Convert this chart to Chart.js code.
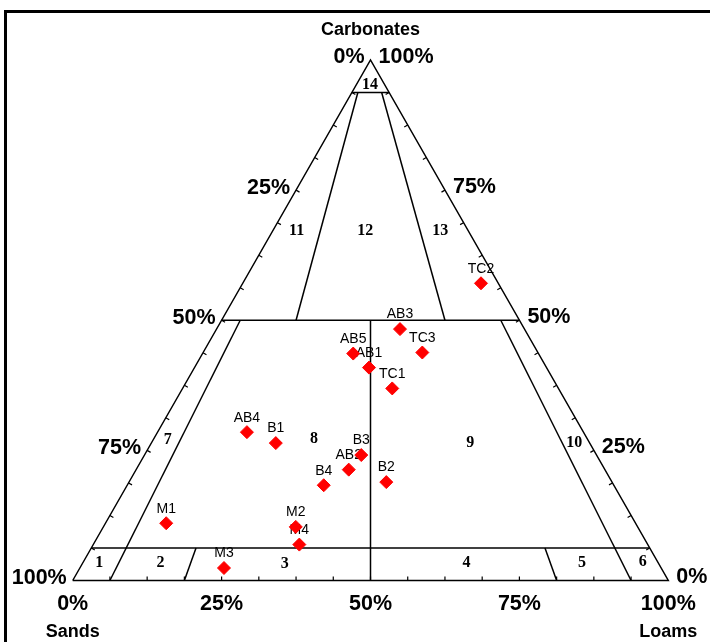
<!DOCTYPE html>
<html>
<head>
<meta charset="utf-8">
<title>Ternary diagram - Sands / Loams / Carbonates</title>
<script src="https://cdn.jsdelivr.net/npm/chart.js@4.4.1/dist/chart.umd.min.js"></script>
<style>
  html, body { margin: 0; padding: 0; background: #fff; }
  canvas { display: block; }
</style>
</head>
<body>
<canvas id="ternary" width="710" height="642"></canvas>
<script>
// samples, composition in % (sands / loams / carbonates)
const sampleNames = ['AB1', 'AB2', 'AB3', 'AB4', 'AB5', 'B1', 'B2', 'B3', 'B4', 'M1', 'M2', 'M3', 'M4', 'TC1', 'TC2', 'TC3'];
const sands      = [29.8, 43.0, 20.9, 56.5, 31.1, 52.7, 37.9, 39.5, 48.7, 78.8, 57.4, 73.4, 58.5, 27.9,  2.9, 19.4];
const loams      = [29.3, 35.7, 30.8, 15.0, 25.3, 20.9, 43.2, 36.4, 33.0, 10.2, 32.3, 24.2, 34.6, 35.2, 40.0, 36.8];
const carbonates = [40.9, 21.3, 48.3, 28.5, 43.6, 26.4, 18.9, 24.1, 18.3, 11.0, 10.3,  2.4,  6.9, 36.9, 57.1, 43.8];

const tickValues = [0, 25, 50, 75, 100];
const tickLabels = ['0%', '25%', '50%', '75%', '100%'];
const minorStep = 6.25;

// classification scheme, every line given by its two ends as [sands, loams, carbonates]
const outline = [[100, 0, 0], [0, 100, 0], [0, 0, 100], [100, 0, 0]];
const boundaries = [
    [[6.25, 0, 93.75], [0, 6.25, 93.75]],
    [[50, 0, 50], [0, 50, 50]],
    [[93.75, 0, 6.25], [0, 93.75, 6.25]],
    [[5.25, 1, 93.75], [37.5, 12.5, 50]],
    [[1.25, 5, 93.75], [12.5, 37.5, 50]],
    [[46.875, 3.125, 50], [93.75, 6.25, 0]],
    [[3.125, 46.875, 50], [6.25, 93.75, 0]],
    [[25, 25, 50], [50, 50, 0]],
    [[76.17, 17.58, 6.25], [81.25, 18.75, 0]],
    [[17.58, 76.17, 6.25], [18.75, 81.25, 0]]
];
const regionIds = ['1', '2', '3', '4', '5', '6', '7', '8', '9', '10', '11', '12', '13', '14'];
const regionSpots = [
    [93.9, 2.8, 3.3], [83.6, 13.1, 3.3], [62.8, 34.0, 3.2], [32.2, 64.4, 3.4], [12.8, 83.8, 3.4], [2.5, 93.9, 3.6],
    [70.5, 2.4, 27.1], [45.9, 26.9, 27.2], [20.0, 53.5, 26.5], [2.6, 71.0, 26.4],
    [28.8, 4.0, 67.2], [17.3, 15.5, 67.2], [4.7, 28.1, 67.2], [2.5, 2.3, 95.2]
];

const sansFont = "'Liberation Sans', Arial, sans-serif";
const serifFont = "'Liberation Serif', 'Times New Roman', serif";

function tern(s, l, c) {
    const t = s + l + c;
    return { x: (l + c / 2) / t * 100, y: c / t * 100 };
}

function toPx(chart, s, l, c) {
    const p = tern(s, l, c);
    return [chart.scales.x.getPixelForValue(p.x), chart.scales.y.getPixelForValue(p.y)];
}

function lineSet(points) {
    return {
        type: 'scatter',
        data: points.map(p => tern(p[0], p[1], p[2])),
        showLine: true,
        borderColor: '#000',
        borderWidth: 1.5,
        pointRadius: 0,
        fill: false,
        clip: false
    };
}

const samplePoints = sampleNames.map((n, i) => tern(sands[i], loams[i], carbonates[i]));

const ternaryDecor = {
    id: 'ternaryDecor',
    beforeDraw(chart) {
        const ctx = chart.ctx;
        ctx.save();
        ctx.fillStyle = '#fff';
        ctx.fillRect(0, 0, chart.width, chart.height);
        ctx.strokeStyle = '#000';
        ctx.lineWidth = 3;
        ctx.beginPath();
        ctx.moveTo(5.5, chart.height);
        ctx.lineTo(5.5, 11.5);
        ctx.lineTo(chart.width, 11.5);
        ctx.stroke();
        ctx.restore();
    },
    beforeDatasetDraw(chart, args) {
        if (args.index !== 0) return;
        // sample names go under the markers
        const ctx = chart.ctx;
        const meta = chart.getDatasetMeta(0);
        ctx.save();
        ctx.fillStyle = '#000';
        ctx.font = '14px ' + sansFont;
        ctx.textAlign = 'center';
        ctx.textBaseline = 'middle';
        meta.data.forEach((el, i) => ctx.fillText(sampleNames[i], el.x, el.y - 14.5));
        ctx.restore();
    },
    afterDatasetsDraw(chart) {
        const ctx = chart.ctx;
        ctx.save();
        ctx.strokeStyle = '#000';
        ctx.lineWidth = 1.2;

        // small ticks every 1/16, pointing inside
        const L = toPx(chart, 100, 0, 0), R = toPx(chart, 0, 100, 0), A = toPx(chart, 0, 0, 100);
        const unit = (a, b) => { const dx = b[0] - a[0], dy = b[1] - a[1], d = Math.hypot(dx, dy); return [dx / d, dy / d]; };
        const dl = unit(L, A), dr = unit(R, A);
        const nl = [-dl[1], dl[0]], nr = [dr[1], -dr[0]];
        const tk = 4;
        ctx.beginPath();
        for (let v = minorStep; v < 100; v += minorStep) {
            let p = toPx(chart, 100 - v, v, 0);
            ctx.moveTo(p[0], p[1]); ctx.lineTo(p[0], p[1] - tk);
            p = toPx(chart, 100 - v, 0, v);
            ctx.moveTo(p[0], p[1]); ctx.lineTo(p[0] + nl[0] * tk, p[1] + nl[1] * tk);
            p = toPx(chart, 0, 100 - v, v);
            ctx.moveTo(p[0], p[1]); ctx.lineTo(p[0] + nr[0] * tk, p[1] + nr[1] * tk);
        }
        ctx.stroke();

        // tick labels
        ctx.fillStyle = '#000';
        ctx.font = 'bold 21.5px ' + sansFont;
        ctx.textBaseline = 'middle';
        tickValues.forEach((v, i) => {
            let p = toPx(chart, v, 0, 100 - v);
            ctx.textAlign = 'right';
            ctx.fillText(tickLabels[i], p[0] - 6, p[1] - 2.5);
            p = toPx(chart, 0, 100 - v, v);
            ctx.textAlign = 'left';
            ctx.fillText(tickLabels[i], p[0] + 8, p[1] - 3);
            p = toPx(chart, 100 - v, v, 0);
            ctx.textAlign = 'center';
            ctx.fillText(tickLabels[i], p[0], p[1] + 24);
        });

        // axis titles
        ctx.font = 'bold 18px ' + sansFont;
        ctx.textAlign = 'center';
        ctx.fillText('Carbonates', A[0], 30);
        ctx.fillText('Sands', L[0], 632);
        ctx.fillText('Loams', R[0], 632);

        // region numbers
        ctx.font = 'bold 16px ' + serifFont;
        regionIds.forEach((id, i) => {
            const p = toPx(chart, regionSpots[i][0], regionSpots[i][1], regionSpots[i][2]);
            ctx.fillText(id, p[0], p[1]);
        });
        ctx.restore();
    }
};

new Chart(document.getElementById('ternary'), {
    type: 'scatter',
    data: {
        datasets: [
            {
                data: samplePoints,
                pointStyle: 'rectRot',
                pointRadius: 6.5,
                pointBorderWidth: 1,
                backgroundColor: '#ff0000',
                borderColor: '#ff0000',
                clip: false
            },
            lineSet(outline),
            ...boundaries.map(b => lineSet(b))
        ]
    },
    options: {
        responsive: false,
        animation: false,
        layout: { padding: 0, autoPadding: false },
        plugins: { legend: { display: false }, tooltip: { enabled: false } },
        scales: {
            x: { type: 'linear', min: -12.206, max: 107.0, display: false },
            y: { type: 'linear', min: -11.816, max: 111.527, display: false }
        }
    },
    plugins: [ternaryDecor]
});
</script>
</body>
</html>
